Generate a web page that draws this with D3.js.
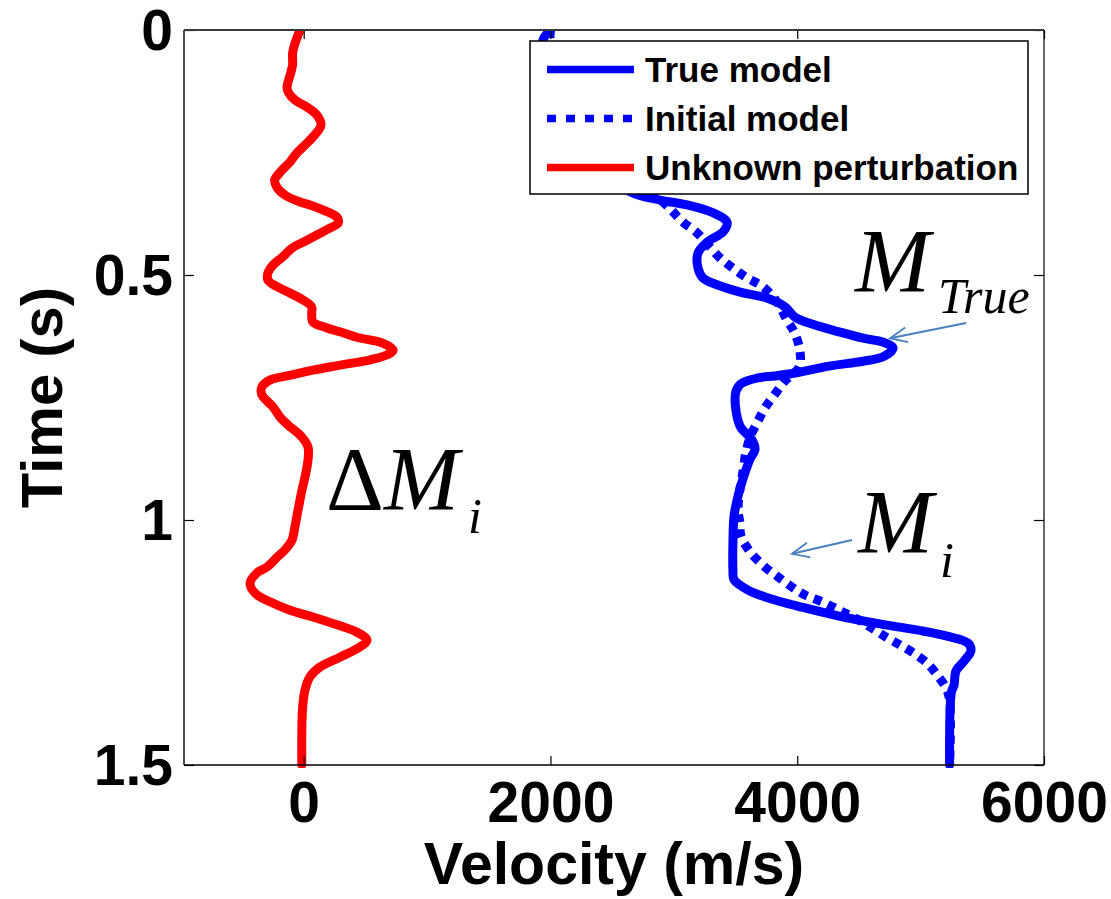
<!DOCTYPE html>
<html>
<head>
<meta charset="utf-8">
<script src="https://cdn.jsdelivr.net/npm/d3@7"></script>
<style>
  body { margin: 0; background: #fff; }
  svg { display: block; }
</style>
</head>
<body>
<svg id="chart" width="1111" height="899"></svg>
<script>
// Axis ticks
const timeTicks = [0, 0.5, 1, 1.5];
const velocityTicks = [0, 2000, 4000, 6000];

// True velocity model: time (s) and velocity (m/s)
const trueModelTime = [0, 0.02, 0.05, 0.1, 0.15, 0.2, 0.25, 0.3, 0.333, 0.347, 0.357, 0.373, 0.392, 0.412, 0.433, 0.455,
  0.486, 0.506, 0.52, 0.535, 0.547, 0.565, 0.586, 0.6, 0.616, 0.629, 0.637, 0.649, 0.667, 0.676, 0.686, 0.7,
  0.706, 0.71, 0.722, 0.737, 0.778, 0.812, 0.833, 0.855, 0.876, 0.916, 0.951, 0.992, 1.047, 1.102, 1.122,
  1.143, 1.157, 1.178, 1.196, 1.212, 1.227, 1.237, 1.251, 1.267, 1.288, 1.308, 1.337, 1.351, 1.5];
const trueModelVelocity = [2000, 1940, 1950, 2030, 2120, 2220, 2330, 2470, 2670, 2888, 3107, 3318, 3431, 3399, 3269, 3196,
  3196, 3236, 3350, 3536, 3755, 3901, 3982, 4120, 4339, 4534, 4696, 4777, 4696, 4534, 4258, 3982,
  3820, 3682, 3544, 3504, 3504, 3544, 3625, 3658, 3617, 3560, 3520, 3488, 3479, 3479, 3488,
  3601, 3739, 4039, 4339, 4671, 5028, 5214, 5384, 5408, 5352, 5287, 5271, 5250, 5235];

// Smooth starting model
const initialModelTime = [0, 0.05, 0.1, 0.15, 0.2, 0.25, 0.3, 0.351, 0.371, 0.392, 0.414, 0.443, 0.465, 0.486, 0.506,
  0.524, 0.555, 0.592, 0.62, 0.657, 0.688, 0.716, 0.743, 0.771, 0.798, 0.827, 0.861, 0.902, 0.937, 0.98,
  1.006, 1.033, 1.067, 1.096, 1.116, 1.137, 1.153, 1.167, 1.184, 1.198, 1.218, 1.239, 1.255, 1.271, 1.292,
  1.316, 1.343, 1.367, 1.5];
const initialModelVelocity = [2000, 2000, 2080, 2200, 2350, 2520, 2700, 2912, 2993, 3074, 3188, 3293, 3374, 3479, 3593,
  3722, 3836, 3917, 3982, 4023, 4015, 3901, 3820, 3739, 3682, 3625, 3585, 3560, 3536, 3520,
  3536, 3544, 3625, 3739, 3844, 3958, 4063, 4201, 4339, 4453, 4590, 4720, 4833, 4939, 5052,
  5133, 5206, 5235, 5235];

// Unknown perturbation (true minus initial)
const perturbationTime = [0, 0.027, 0.047, 0.071, 0.092, 0.116, 0.127, 0.143, 0.157, 0.173, 0.194, 0.214, 0.235, 0.251,
  0.269, 0.29, 0.306, 0.322, 0.337, 0.351, 0.357, 0.367, 0.382, 0.394, 0.404, 0.418, 0.433, 0.445, 0.463,
  0.48, 0.496, 0.51, 0.524, 0.537, 0.551, 0.565, 0.578, 0.596, 0.608, 0.618, 0.627, 0.639, 0.653, 0.663,
  0.673, 0.684, 0.694, 0.706, 0.714, 0.729, 0.745, 0.769, 0.79, 0.806, 0.831, 0.851, 0.878, 0.912, 0.939,
  0.98, 1.014, 1.041, 1.061, 1.076, 1.096, 1.108, 1.129, 1.149, 1.167, 1.184, 1.198, 1.214, 1.229, 1.245,
  1.259, 1.28, 1.3, 1.32, 1.347, 1.388, 1.5];
const perturbationVelocity = [-30, -70, -90, -90, -110, -135, -125, -70, 25, 105, 140, 90, 10, -55,
  -110, -190, -235, -215, -150, -30, 50, 155, 270, 280, 215, 110, -5, -95, -170,
  -250, -290, -290, -215, -110, -5, 65, 65, 75, 190, 320, 430, 640, 725, 675,
  540, 295, 75, -135, -270, -340, -338, -249, -192, -127, -14, 35, 35, 11, -14,
  -46, -71, -95, -152, -216, -297, -379, -435, -395, -273, -111, 75, 270, 432, 513,
  456, 294, 132, 51, 11, -10, -15];

const legendLabels = ["True model", "Initial model", "Unknown perturbation"];

const svg = d3.select("#chart");
const W = 1111, H = 899;
const plot = { left: 184, right: 1044, top: 30, bottom: 765 };

const x = d3.scaleLinear().domain([-970, 6000]).range([plot.left, plot.right]);
const y = d3.scaleLinear().domain([0, 1.5]).range([plot.top, plot.bottom]);

const sansBold = "Arial, 'Liberation Sans', Helvetica, sans-serif";
const serif = "'Times New Roman', 'Liberation Serif', 'DejaVu Serif', serif";

svg.append("rect").attr("width", W).attr("height", H).attr("fill", "#fff");

svg.append("defs").append("clipPath").attr("id", "plotClip")
  .append("rect")
  .attr("x", plot.left).attr("y", plot.top)
  .attr("width", plot.right - plot.left).attr("height", plot.bottom - plot.top + 3);

const line = d3.line()
  .x(d => x(d[1])).y(d => y(d[0]))
  .curve(d3.curveCatmullRom.alpha(0.5));
const zipSeries = (t, v) => t.map((ti, i) => [ti, v[i]]);

const series = [
  { data: zipSeries(perturbationTime, perturbationVelocity), color: "#ff0000", dash: null },
  { data: zipSeries(initialModelTime, initialModelVelocity), color: "#0000ff", dash: "8 7" },
  { data: zipSeries(trueModelTime, trueModelVelocity), color: "#0000ff", dash: null }
];

const lines = svg.append("g").attr("clip-path", "url(#plotClip)");
series.forEach(s => {
  lines.append("path")
    .datum(s.data)
    .attr("d", line)
    .attr("fill", "none")
    .attr("stroke", s.color)
    .attr("stroke-width", 9)
    .attr("stroke-linejoin", "round")
    .attr("stroke-linecap", s.dash ? "butt" : "round")
    .attr("stroke-dasharray", s.dash);
});

// Axes (ticks point inward)
const axisFont = g => g.selectAll("text")
  .attr("font-family", sansBold).attr("font-weight", "bold")
  .attr("font-size", 57).attr("fill", "#000");

const gx = svg.append("g").attr("transform", `translate(0,${plot.bottom})`)
  .call(d3.axisBottom(x).tickValues(velocityTicks).tickFormat(d3.format("d")).tickSize(-9).tickPadding(17).tickSizeOuter(0));
gx.call(axisFont);
const gxTop = svg.append("g").attr("transform", `translate(0,${plot.top})`)
  .call(d3.axisTop(x).tickValues(velocityTicks).tickFormat("").tickSize(-9).tickSizeOuter(0));

const gy = svg.append("g").attr("transform", `translate(${plot.left},0)`)
  .call(d3.axisLeft(y).tickValues(timeTicks).tickFormat(d => d3.format("")(d)).tickSize(-10).tickPadding(11).tickSizeOuter(0));
gy.call(axisFont);
gy.selectAll("text").attr("dy", "0.34em");
const gyRight = svg.append("g").attr("transform", `translate(${plot.right},0)`)
  .call(d3.axisRight(y).tickValues(timeTicks).tickFormat("").tickSize(-10).tickSizeOuter(0));

[gx, gxTop, gy, gyRight].forEach(g => {
  g.select(".domain").remove();
  g.selectAll(".tick line").attr("stroke", "#000").attr("stroke-width", 1.2);
});

// Frame
svg.append("line").attr("x1", plot.left).attr("x2", plot.right).attr("y1", plot.bottom).attr("y2", plot.bottom)
  .attr("stroke", "#000").attr("stroke-width", 1.6);
svg.append("line").attr("x1", plot.left).attr("x2", plot.left).attr("y1", plot.top).attr("y2", plot.bottom)
  .attr("stroke", "#000").attr("stroke-width", 1.4);
svg.append("line").attr("x1", plot.right).attr("x2", plot.right).attr("y1", plot.top).attr("y2", plot.bottom)
  .attr("stroke", "#000").attr("stroke-width", 1.2);
svg.append("line").attr("x1", plot.left).attr("x2", plot.right).attr("y1", plot.top).attr("y2", plot.top)
  .attr("stroke", "#3a3a3a").attr("stroke-width", 2.2);

// Axis titles
svg.append("text")
  .attr("x", (plot.left + plot.right) / 2).attr("y", 884)
  .attr("text-anchor", "middle")
  .attr("font-family", sansBold).attr("font-weight", "bold").attr("font-size", 59)
  .text("Velocity (m/s)");
svg.append("text")
  .attr("transform", `translate(62,${(plot.top + plot.bottom) / 2}) rotate(-90)`)
  .attr("text-anchor", "middle")
  .attr("font-family", sansBold).attr("font-weight", "bold").attr("font-size", 58)
  .text("Time (s)");

// Legend
const legend = svg.append("g").attr("transform", "translate(530,41)");
legend.append("rect").attr("width", 498).attr("height", 153)
  .attr("fill", "#fff").attr("stroke", "#000").attr("stroke-width", 1.5);
const legendStyles = [series[2], series[1], series[0]];
legendLabels.forEach((label, i) => {
  const cy = 28.5 + i * 49;
  legend.append("line")
    .attr("x1", 17).attr("x2", 104).attr("y1", cy).attr("y2", cy)
    .attr("stroke", legendStyles[i].color).attr("stroke-width", 7.5)
    .attr("stroke-dasharray", legendStyles[i].dash ? "9 10" : null);
  legend.append("text")
    .attr("x", 115).attr("y", cy + 12.5)
    .attr("font-family", sansBold).attr("font-weight", "bold").attr("font-size", 35)
    .text(label);
});

// Annotations
const arrowColor = "#4a7fc0";
svg.select("defs").append("marker")
  .attr("id", "openArrow")
  .attr("markerUnits", "userSpaceOnUse")
  .attr("viewBox", "-20 -10 22 20")
  .attr("refX", 0).attr("refY", 0)
  .attr("markerWidth", 22).attr("markerHeight", 20)
  .attr("orient", "auto")
  .append("path")
  .attr("d", "M-17,-7.5 L0,0 L-17,7.5")
  .attr("fill", "none").attr("stroke", arrowColor).attr("stroke-width", 1.8);

const arrows = [
  { from: [5368, 0.598], to: [4752, 0.629] },
  { from: [4444, 1.041], to: [3958, 1.069] }
];
arrows.forEach(a => {
  svg.append("line")
    .attr("x1", x(a.from[0])).attr("y1", y(a.from[1]))
    .attr("x2", x(a.to[0])).attr("y2", y(a.to[1]))
    .attr("stroke", arrowColor).attr("stroke-width", 2)
    .attr("marker-end", "url(#openArrow)");
});

function mathLabel(v, t, parts) {
  const txt = svg.append("text")
    .attr("x", x(v)).attr("y", y(t))
    .attr("font-family", serif).attr("font-size", 90).attr("fill", "#000");
  parts.forEach(p => {
    const ts = txt.append("tspan").text(p.text);
    if (p.italic) ts.attr("font-style", "italic");
    if (p.size) ts.attr("font-size", p.size);
    if (p.dx) ts.attr("dx", p.dx);
    if (p.dy) ts.attr("dy", p.dy);
  });
}
mathLabel(4468, 0.535, [{ text: "M", italic: true }, { text: "True", italic: true, size: 50, dx: 8, dy: 21 }]);
mathLabel(4492, 1.067, [{ text: "M", italic: true }, { text: "i", italic: true, size: 50, dx: 7, dy: 24 }]);
mathLabel(181, 0.98, [{ text: "\u0394" }, { text: "M", italic: true }, { text: "i", italic: true, size: 50, dx: 9, dy: 23 }]);
</script>
</body>
</html>
